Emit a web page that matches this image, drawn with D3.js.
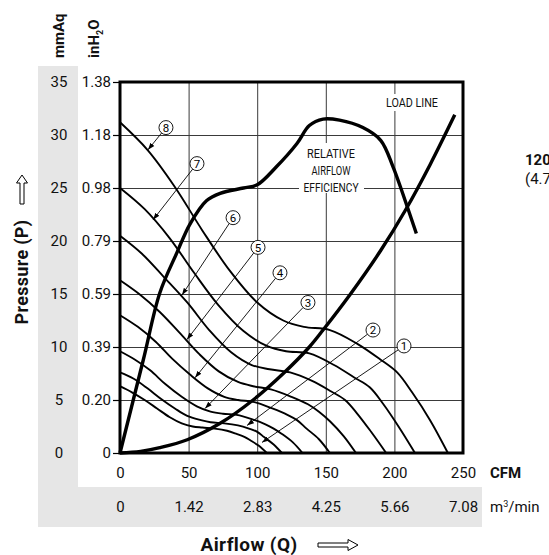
<!DOCTYPE html>
<html><head><meta charset="utf-8">
<script src="https://cdn.jsdelivr.net/npm/d3@7"></script>
<style>
html,body{margin:0;padding:0;background:#fff;}
svg{display:block;}
</style></head><body>
<svg id="chart" width="549" height="555"></svg>
<script>
// ---- axis ticks / labels ----
const cfmTicks = [0, 50, 100, 150, 200, 250];
const m3Labels = ["0", "1.42", "2.83", "4.25", "5.66", "7.08"];
const mmTicks = [0, 5, 10, 15, 20, 25, 30, 35];
const inLabels = ["0", "0.20", "0.39", "0.59", "0.79", "0.98", "1.18", "1.38"];

// ---- fan speed curves (flow in CFM, pressure in mmAq) ----
const flow8 = [0, 20, 40, 60, 80, 100, 119, 134, 153, 173, 190, 202, 213, 226, 239];
const pres8 = [31.2, 28.6, 25.1, 21.0, 17.2, 14.2, 12.5, 11.9, 11.6, 10.3, 8.8, 7.6, 5.7, 3.1, 0];
const flow7 = [0, 18, 36, 54, 72, 90, 107, 121, 138, 156, 171, 182, 192, 203, 215];
const pres7 = [25.0, 23.0, 20.3, 17.0, 13.9, 11.5, 10.1, 9.6, 9.4, 8.3, 7.1, 6.2, 4.6, 2.5, 0];
const flow6 = [0, 16, 32, 49, 65, 81, 96, 109, 124, 140, 154, 164, 173, 183, 194];
const pres6 = [20.5, 18.8, 16.6, 14.2, 11.6, 9.5, 8.3, 7.9, 7.6, 6.8, 5.8, 5.0, 3.7, 2.0, 0];
const flow5 = [0, 14, 29, 43, 58, 72, 86, 97, 110, 125, 137, 145, 153, 163, 172];
const pres5 = [16.3, 15.0, 13.3, 11.4, 9.3, 7.7, 6.7, 6.3, 6.0, 5.3, 4.6, 3.9, 3.0, 1.6, 0];
const flow4 = [0, 13, 26, 38, 51, 64, 76, 86, 98, 111, 122, 129, 136, 145, 153];
const pres4 = [13.0, 11.9, 10.5, 8.9, 7.4, 6.1, 5.3, 5.0, 4.8, 4.2, 3.6, 3.1, 2.3, 1.3, 0];
const flow3 = [0, 11, 22, 33, 45, 56, 66, 75, 85, 96, 106, 112, 118, 126, 133];
const pres3 = [9.6, 8.8, 7.8, 6.5, 5.3, 4.4, 3.9, 3.7, 3.6, 3.2, 2.7, 2.3, 1.8, 1.0, 0];
const flow2 = [0, 10, 20, 30, 40, 49, 59, 66, 76, 86, 94, 100, 105, 112, 118];
const pres2 = [7.6, 7.0, 6.1, 5.1, 4.2, 3.5, 3.1, 2.9, 2.8, 2.6, 2.3, 2.0, 1.5, 0.8, 0];
const flow1 = [0, 9, 18, 27, 36, 45, 53, 60, 69, 78, 85, 91, 95, 101, 107];
const pres1 = [6.3, 5.7, 5.0, 4.2, 3.4, 2.8, 2.5, 2.4, 2.3, 2.1, 1.8, 1.5, 1.2, 0.7, 0];

// ---- load line & relative airflow efficiency ----
const loadFlow = [0, 15, 29, 49, 73, 97, 119, 138, 148, 168, 190, 208, 226, 244];
const loadPres = [0, 0.15, 0.5, 1.25, 2.8, 5.0, 7.5, 10.0, 11.6, 15.0, 19.1, 22.9, 27.2, 31.9];
const effFlow = [0, 17, 29, 41.5, 51, 63, 73, 90, 100, 114, 129, 138, 148, 160, 177, 190, 199, 206, 216];
const effPres = [0, 8.8, 15.1, 18.9, 21.6, 23.8, 24.5, 25.0, 25.3, 27.0, 29.2, 30.9, 31.5, 31.4, 30.7, 29.5, 27.0, 24.5, 20.7];

// ---- callouts: label, label position (CFM, mmAq), arrow tip (CFM, mmAq) ----
const calloutNames = ["1", "2", "3", "4", "5", "6", "7", "8"];
const calloutAt = [[207, 10.1], [184.4, 11.6], [137, 14.2], [116.6, 17.0], [100.6, 19.4], [82.4, 22.2], [56.1, 27.3], [33.5, 30.7]];
const calloutTip = [[103.5, 1.0], [92.6, 2.6], [62, 4.2], [54.7, 7.1], [48.8, 10.7], [45.2, 14.9], [24.1, 22.0], [20.4, 28.6]];

const FONT = "Roboto, 'Noto Sans', 'DejaVu Sans', sans-serif";
const NARROW = "'Liberation Sans Narrow', 'Roboto', sans-serif";
const svg = d3.select('#chart');
const x = d3.scaleLinear().domain([0, 250]).range([120, 463]);
const y = d3.scaleLinear().domain([0, 35]).range([453, 82]);
const GREY = '#e6e6e6';

// grey bands
svg.append('rect').attr('x', 38).attr('y', 66).attr('width', 40).attr('height', 461).attr('fill', GREY);
svg.append('rect').attr('x', 38).attr('y', 487).attr('width', 444).attr('height', 40).attr('fill', GREY);

// grid
const gx = svg.append('g').attr('transform', `translate(0,${y(0)})`)
  .call(d3.axisBottom(x).tickValues(cfmTicks.slice(1, -1)).tickSize(-(y(0) - y(35))).tickFormat(''));
gx.select('.domain').remove();
gx.selectAll('line').attr('stroke', '#3a3a3a').attr('stroke-width', 1);
const gy = svg.append('g').attr('transform', `translate(${x(0)},0)`)
  .call(d3.axisLeft(y).tickValues(mmTicks.slice(1, -1)).tickSize(-(x(250) - x(0))).tickFormat(''));
gy.select('.domain').remove();
gy.selectAll('line').attr('stroke', '#3a3a3a').attr('stroke-width', 1);

// white boxes behind in-plot texts
svg.append('rect').attr('x', 299).attr('y', 143).attr('width', 65).attr('height', 50).attr('fill', '#fff');
svg.append('rect').attr('x', 384).attr('y', 94).attr('width', 57).attr('height', 17).attr('fill', '#fff');

// curves
const line = d3.line().x(d => x(d[0])).y(d => y(d[1])).curve(d3.curveCatmullRom.alpha(0.5));
const zipd = (a, b) => a.map((v, i) => [v, b[i]]);
const speeds = [[flow1, pres1], [flow2, pres2], [flow3, pres3], [flow4, pres4], [flow5, pres5], [flow6, pres6], [flow7, pres7], [flow8, pres8]];
svg.append('g').selectAll('path').data(speeds).join('path')
  .attr('d', d => line(zipd(d[0], d[1])))
  .attr('fill', 'none').attr('stroke', '#000').attr('stroke-width', 1.9);
svg.append('path').attr('d', line(zipd(loadFlow, loadPres)))
  .attr('fill', 'none').attr('stroke', '#000').attr('stroke-width', 3.4).attr('stroke-linecap', 'butt');
svg.append('path').attr('d', line(zipd(effFlow, effPres)))
  .attr('fill', 'none').attr('stroke', '#000').attr('stroke-width', 3.4).attr('stroke-linecap', 'butt');

// in-plot texts
const tx = svg.append('g').attr('font-family', NARROW).attr('font-size', 12).attr('fill', '#111').attr('text-anchor', 'middle');
tx.append('text').attr('x', 412).attr('y', 107).attr('textLength', 52).attr('lengthAdjust', 'spacingAndGlyphs').text('LOAD LINE');
tx.append('text').attr('x', 331).attr('y', 158).attr('textLength', 48).attr('lengthAdjust', 'spacingAndGlyphs').text('RELATIVE');
tx.append('text').attr('x', 331).attr('y', 175).attr('textLength', 39).attr('lengthAdjust', 'spacingAndGlyphs').text('AIRFLOW');
tx.append('text').attr('x', 331).attr('y', 192).attr('textLength', 55).attr('lengthAdjust', 'spacingAndGlyphs').text('EFFICIENCY');

// callouts
const defs = svg.append('defs');
defs.append('marker').attr('id', 'ah').attr('viewBox', '0 0 10 10').attr('refX', 10).attr('refY', 5)
  .attr('markerWidth', 7).attr('markerHeight', 7).attr('markerUnits', 'userSpaceOnUse').attr('orient', 'auto')
  .append('path').attr('d', 'M0,1.5 L10,5 L0,8.5 Z').attr('fill', '#000');
const R = 7;
const cg = svg.append('g');
calloutNames.forEach((nm, i) => {
  const cx = x(calloutAt[i][0]), cy = y(calloutAt[i][1]);
  const tx2 = x(calloutTip[i][0]), ty2 = y(calloutTip[i][1]);
  const dx = tx2 - cx, dy = ty2 - cy, L = Math.hypot(dx, dy);
  cg.append('line').attr('x1', cx + dx / L * R).attr('y1', cy + dy / L * R).attr('x2', tx2).attr('y2', ty2)
    .attr('stroke', '#000').attr('stroke-width', 0.9).attr('marker-end', 'url(#ah)');
  cg.append('circle').attr('cx', cx).attr('cy', cy).attr('r', R).attr('fill', '#fff').attr('stroke', '#000').attr('stroke-width', 0.9);
  cg.append('text').attr('x', cx).attr('y', cy).attr('dy', '0.36em').attr('text-anchor', 'middle')
    .attr('font-family', FONT).attr('font-size', 11.5).text(nm);
});

// frame
svg.append('rect').attr('x', x(0)).attr('y', y(35)).attr('width', x(250) - x(0)).attr('height', y(0) - y(35))
  .attr('fill', 'none').attr('stroke', '#000').attr('stroke-width', 3);

// left axes
const ay1 = svg.append('g').attr('transform', `translate(${x(0)},0)`)
  .call(d3.axisLeft(y).tickValues(mmTicks).tickSize(7).tickPadding(2).tickFormat((d, i) => inLabels[i]));
ay1.select('.domain').remove();
ay1.selectAll('line').attr('stroke', '#000').attr('stroke-width', 1.2);
ay1.selectAll('text').attr('font-family', FONT).attr('font-size', 15).attr('fill', '#111');
const ay2 = svg.append('g').attr('transform', `translate(59,0)`)
  .call(d3.axisLeft(y).tickValues(mmTicks).tickSize(0).tickPadding(0).tickFormat(d3.format('d')));
ay2.select('.domain').remove();
ay2.selectAll('text').attr('text-anchor', 'middle').attr('x', 0).attr('font-family', FONT).attr('font-size', 15).attr('fill', '#111');

// bottom axes
const ax1 = svg.append('g').attr('transform', `translate(0,473)`)
  .call(d3.axisBottom(x).tickValues(cfmTicks).tickSize(0).tickPadding(0));
ax1.select('.domain').remove();
ax1.selectAll('text').attr('y', 0).attr('dy', '0.36em').attr('font-family', FONT).attr('font-size', 15).attr('fill', '#111');
const ax2 = svg.append('g').attr('transform', `translate(0,507)`)
  .call(d3.axisBottom(x).tickValues(cfmTicks).tickSize(0).tickPadding(0).tickFormat((d, i) => m3Labels[i]));
ax2.select('.domain').remove();
ax2.selectAll('text').attr('y', 0).attr('dy', '0.36em').attr('font-family', FONT).attr('font-size', 15).attr('fill', '#111');

// unit labels
svg.append('text').attr('x', 490).attr('y', 473).attr('dy', '0.36em').attr('font-family', FONT)
  .attr('font-size', 15).attr('font-weight', 'bold').attr('fill', '#111').text('CFM');
const m3 = svg.append('text').attr('x', 490).attr('y', 507).attr('dy', '0.36em').attr('font-family', FONT)
  .attr('font-size', 15).attr('fill', '#111');
m3.append('tspan').text('m');
m3.append('tspan').attr('font-size', 9).attr('dy', '-0.55em').text('3');
m3.append('tspan').attr('dy', '0.33em').text('/min');

const hdr1 = svg.append('text').attr('transform', 'translate(64,58) rotate(-90)').attr('font-family', FONT)
  .attr('font-size', 15).attr('font-weight', 'bold').attr('fill', '#111').text('mmAq');
const hdr2 = svg.append('text').attr('transform', 'translate(99,58) rotate(-90)').attr('font-family', FONT)
  .attr('font-size', 15).attr('font-weight', 'bold').attr('fill', '#111');
hdr2.append('tspan').text('inH');
hdr2.append('tspan').attr('font-size', 9).attr('dy', '4').text('2');
hdr2.append('tspan').attr('dy', '-4').text('O');

// axis titles
svg.append('text').attr('transform', 'translate(28,272) rotate(-90)').attr('text-anchor', 'middle')
  .attr('font-family', FONT).attr('font-size', 18).attr('font-weight', 'bold').attr('letter-spacing', 0.3)
  .attr('fill', '#111').text('Pressure (P)');
svg.append('text').attr('x', 249).attr('y', 551).attr('text-anchor', 'middle')
  .attr('font-family', FONT).attr('font-size', 19).attr('font-weight', 'bold').attr('letter-spacing', 0.4)
  .attr('fill', '#111').text('Airflow (Q)');

// hollow arrows
svg.append('path').attr('d', 'M22,175 L27.5,183 L24,183 L24,204 L20,204 L20,183 L16.5,183 Z')
  .attr('fill', '#fff').attr('stroke', '#000').attr('stroke-width', 1);
svg.append('path').attr('d', 'M358,545 L348,539.5 L348,543 L318,543 L318,547 L348,547 L348,550.5 Z')
  .attr('fill', '#fff').attr('stroke', '#000').attr('stroke-width', 1);

// side caption (cut by the page edge, as in the reference)
svg.append('text').attr('x', 525).attr('y', 165).attr('font-family', FONT).attr('font-size', 15)
  .attr('font-weight', 'bold').attr('fill', '#111').text('120mm');
svg.append('text').attr('x', 525).attr('y', 184).attr('font-family', FONT).attr('font-size', 15)
  .attr('fill', '#111').text('(4.72")');
</script>
</body></html>
